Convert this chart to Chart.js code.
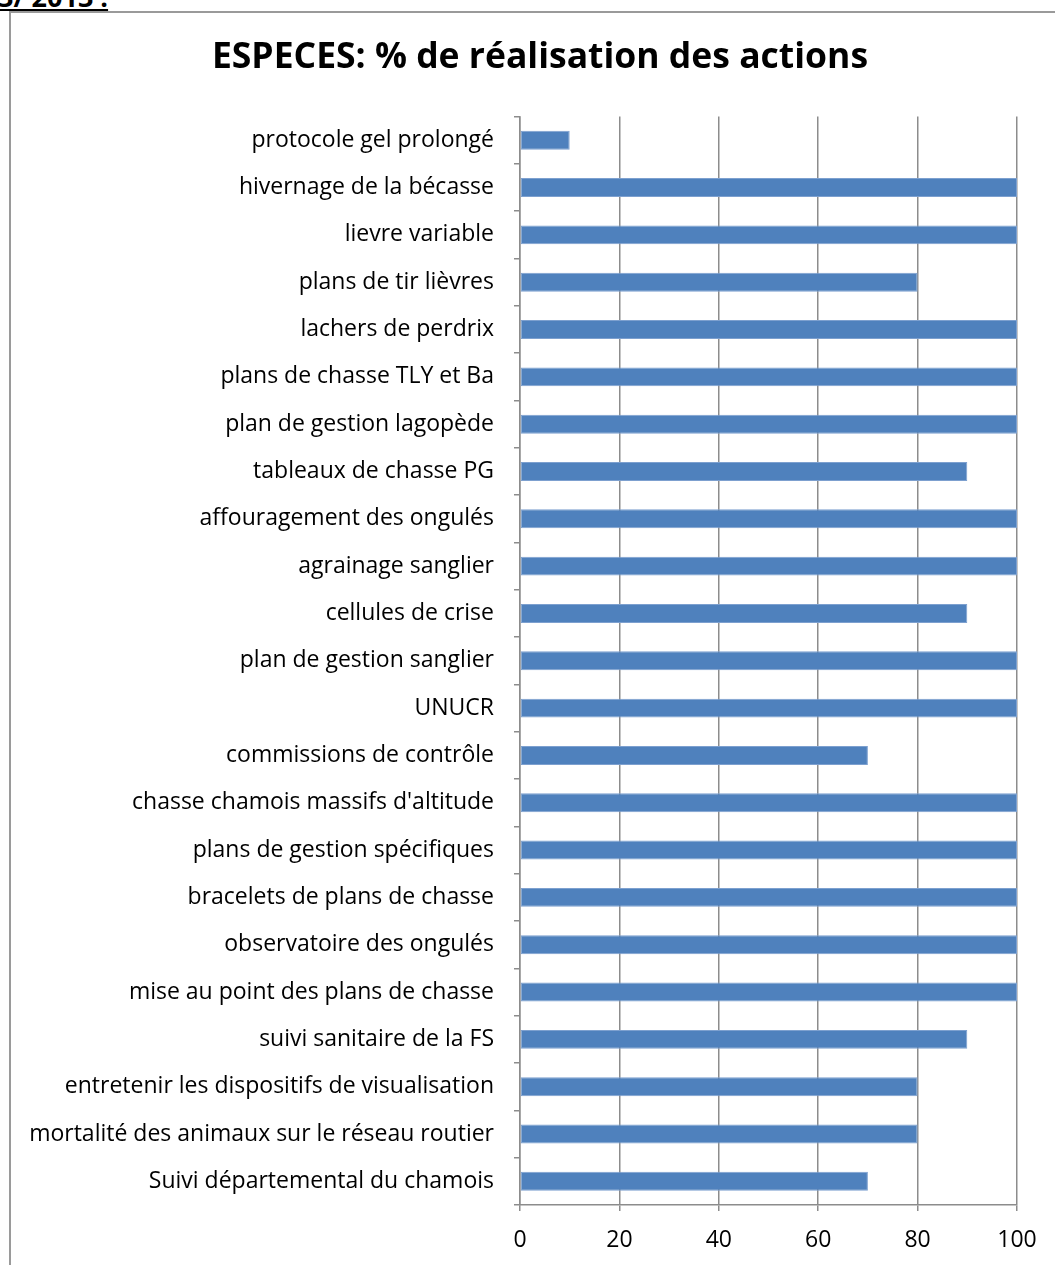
<!DOCTYPE html>
<html>
<head>
<meta charset="utf-8">
<script src="https://cdn.jsdelivr.net/npm/chart.js@4.4.1/dist/chart.umd.min.js"></script>
<style>
  html, body { margin: 0; padding: 0; background: #fff; overflow: hidden; width: 1055px; height: 1265px; }
  #head {
    position: absolute; left: -2px; top: -22px;
    font: bold 27px "Open Sans", sans-serif; text-decoration: underline; color: #000;
  }
  #frame {
    position: absolute; left: 9px; top: 11px; width: 1060px; height: 1260px;
    border-left: 2px solid #9a9a9a; border-top: 2px solid #9a9a9a;
  }
  #frame canvas { position: absolute; left: 0; top: 0; }
</style>
</head>
<body>
<div id="head">3/ 2013 :</div>
<div id="frame"><canvas id="chart" width="1058" height="1252"></canvas></div>
<script>
const chartTitle = "ESPECES: % de réalisation des actions";

const actions = [
  "protocole gel prolongé",
  "hivernage de la bécasse",
  "lievre variable",
  "plans de tir lièvres",
  "lachers de perdrix",
  "plans de chasse TLY et Ba",
  "plan de gestion lagopède",
  "tableaux de chasse PG",
  "affouragement des ongulés",
  "agrainage sanglier",
  "cellules de crise",
  "plan de gestion sanglier",
  "UNUCR",
  "commissions de contrôle",
  "chasse chamois massifs d'altitude",
  "plans de gestion spécifiques",
  "bracelets de plans de chasse",
  "observatoire des ongulés",
  "mise au point des plans de chasse",
  "suivi sanitaire de la FS",
  "entretenir les dispositifs de visualisation",
  "mortalité des animaux sur le réseau routier",
  "Suivi départemental du chamois"
];

const realisation = [10, 100, 100, 80, 100, 100, 100, 90, 100, 100, 90, 100, 100, 70, 100, 100, 100, 100, 100, 90, 80, 80, 70];

const xTicks = [0, 20, 40, 60, 80, 100];

const ctx = document.getElementById("chart");

new Chart(ctx, {
  type: 'bar',
  data: {
    labels: actions,
    datasets: [{
      data: realisation,
      backgroundColor: '#4f81bd',
      borderColor: '#7da0cf',
      borderWidth: 1,
      borderSkipped: false,
      categoryPercentage: 1,
      barPercentage: 0.4
    }]
  },
  options: {
    indexAxis: 'y',
    responsive: false,
    animation: false,
    layout: { padding: 0 },
    plugins: {
      legend: { display: false },
      tooltip: { enabled: false },
      title: {
        display: true,
        text: chartTitle,
        color: '#000',
        font: { family: 'Open Sans', size: 35.5, weight: 'bold' },
        padding: { top: 24, bottom: 37 }
      }
    },
    scales: {
      x: {
        min: 0,
        max: 100,
        afterBuildTicks: scale => { scale.ticks = xTicks.map(v => ({ value: v })); },
        afterFit: scale => { scale.height = 60; },
        grid: { color: '#8c8c8c', lineWidth: 1.5, tickLength: 6, tickColor: '#8c8c8c' },
        border: { color: '#8c8c8c', width: 1.5 },
        ticks: { color: '#000', padding: 16, font: { family: 'Open Sans', size: 23 } }
      },
      y: {
        afterFit: scale => { scale.width = 509; },
        grid: { display: true, drawOnChartArea: false, offset: true, tickLength: 6, tickColor: '#8c8c8c', lineWidth: 1.5 },
        border: { color: '#8c8c8c', width: 1.5 },
        ticks: { color: '#000', padding: 20, autoSkip: false, font: { family: 'Open Sans', size: 23 } }
      },
      // empty right margin so the title stays centred on the whole frame
      spacer: {
        type: 'linear',
        position: 'right',
        afterFit: scale => { scale.width = 52; },
        grid: { display: false, drawTicks: false },
        border: { display: false },
        ticks: { display: false }
      }
    }
  }
});
</script>
</body>
</html>
